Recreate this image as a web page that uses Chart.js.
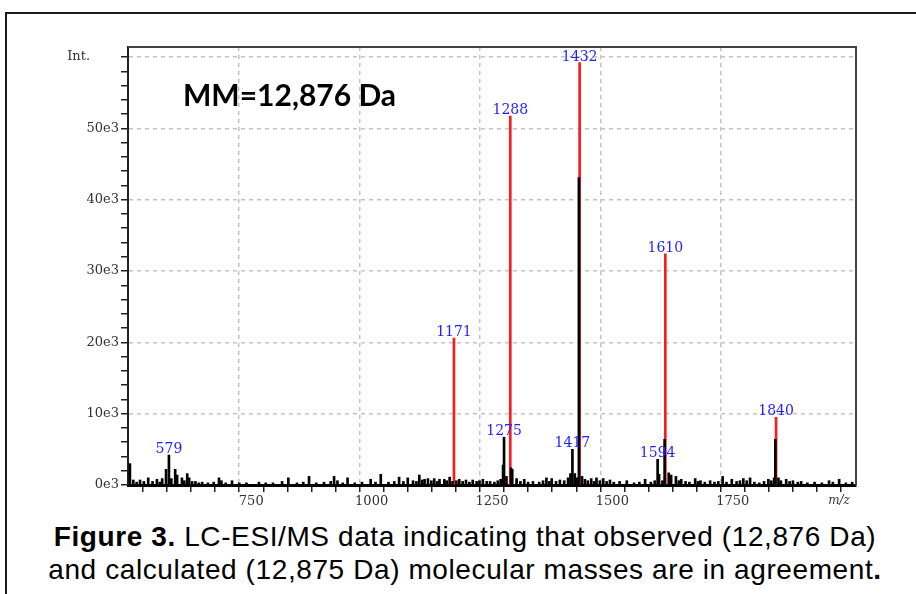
<!DOCTYPE html>
<html>
<head>
<meta charset="utf-8">
<script src="https://cdn.jsdelivr.net/npm/chart.js@4.4.1/dist/chart.umd.min.js"></script>
<style>
  body { margin: 0; background: #fff; width: 916px; height: 594px; overflow: hidden; position: relative; }
  #frame { position: absolute; left: 5px; top: 12px; width: 1000px; height: 700px; border: 2px solid #1a1a1a; }
  #wrap { position: absolute; left: 0; top: 0; width: 916px; height: 512px; }
  #caption { position: absolute; left: 0; top: 520px; width: 930px; text-align: center; letter-spacing: 0.6px;
             font-family: "Liberation Sans", Arial, sans-serif; font-size: 28px; line-height: 33px; color: #000; }
</style>
</head>
<body>
<div id="frame"></div>
<div id="wrap"><canvas id="myChart" width="916" height="512"></canvas></div>
<div id="caption"><b>Figure 3.</b> LC-ESI/MS data indicating that observed (12,876 Da)<br>and calculated (12,875 Da) molecular masses are in agreement<b>.</b></div>
<script>
// red sticks: calculated charge states
const redMz = [1171, 1288, 1432, 1610, 1840];
const redInt = [20600, 51700, 59200, 32400, 9500];

// black sticks: measured spectrum (peaks + noise)
const blackMz = [498, 505, 512, 519, 527, 536, 545, 554, 560, 565, 573, 579, 584, 592, 596, 606, 611, 617, 621, 627,
  634, 641, 648, 660, 672, 683, 688, 697, 710, 725, 740, 766, 780, 795, 814, 827, 845, 858, 870, 885,
  901, 915, 922, 929, 940, 950, 965, 980, 998, 1008, 1019, 1035, 1047, 1057, 1066, 1075, 1086, 1093, 1099, 1105,
  1110, 1117, 1124, 1130, 1136, 1141, 1151, 1156, 1162, 1168, 1176, 1182, 1189, 1196, 1203, 1210, 1218, 1224, 1231, 1239,
  1246, 1255, 1262, 1268, 1273, 1275, 1280, 1289.5, 1292, 1301, 1309, 1317, 1325, 1335, 1348, 1356, 1363, 1369, 1374, 1383,
  1391, 1400, 1408, 1413, 1417, 1422, 1427, 1430.5, 1437, 1443, 1449, 1456, 1462, 1467, 1474, 1481, 1488, 1495, 1503, 1515,
  1530, 1545, 1556, 1568, 1580, 1588, 1594, 1597, 1604, 1608.5, 1617, 1622, 1632, 1638, 1643, 1652, 1660, 1672, 1678, 1683,
  1692, 1703, 1712, 1720, 1729, 1737, 1748, 1758, 1765, 1772, 1779, 1786, 1795, 1805, 1815, 1824, 1830, 1836, 1838.5, 1845,
  1850, 1861, 1868, 1875, 1885, 1892, 1905, 1920, 1935, 1950, 1958, 1971, 1985, 1998];
const blackInt = [3000, 700, 400, 700, 500, 1000, 500, 800, 400, 900, 2200, 4200, 900, 2200, 1400, 1000, 600, 1600, 1000, 500,
  500, 300, 400, 300, 400, 1000, 600, 300, 600, 300, 300, 400, 300, 300, 500, 1000, 300, 400, 1200, 300,
  400, 500, 1200, 600, 300, 1000, 300, 400, 800, 400, 1500, 400, 500, 1100, 500, 1000, 600, 500, 1400, 700,
  800, 900, 600, 900, 500, 800, 800, 600, 1100, 500, 600, 800, 500, 700, 400, 700, 500, 600, 800, 500,
  500, 400, 600, 800, 2800, 6700, 1200, 2400, 2200, 900, 500, 800, 400, 500, 400, 600, 1000, 500, 900, 500,
  700, 600, 1000, 1600, 5000, 1600, 1000, 43100, 1200, 800, 600, 900, 500, 1000, 600, 900, 500, 700, 400, 500,
  600, 300, 400, 800, 400, 600, 3600, 1500, 600, 6400, 1700, 1400, 1200, 600, 800, 500, 400, 900, 500, 600,
  400, 600, 400, 500, 1200, 400, 800, 500, 600, 900, 600, 1000, 400, 300, 500, 800, 600, 1000, 6400, 1000,
  600, 800, 500, 600, 400, 500, 300, 400, 300, 600, 400, 800, 300, 400];

const labelMz = [579, 1171, 1275, 1288, 1417, 1432, 1594, 1610, 1840];

const xTickLabels = [750, 1000, 1250, 1500, 1750];
const yTickValues = [0, 10000, 20000, 30000, 40000, 50000, 60000];
const yTickText = ['0e3', '10e3', '20e3', '30e3', '40e3', '50e3', 'Int.       '];

const toPoints = (xs, ys) => xs.map((m, i) => ({x: m, y: ys[i]}));

// minor tick marks every 50 m/z and every 2e3 counts
const stepTicks = (from, to, step) => {
    const t = [];
    for (let v = from; v <= to; v += step) t.push({value: v});
    return t;
};

const extras = {
    id: 'extras',
    afterDraw(chart) {
        const {ctx, chartArea: a, scales: {x, y}} = chart;
        ctx.save();
        // plot frame
        ctx.strokeStyle = '#444';
        ctx.lineWidth = 2;
        ctx.beginPath();
        ctx.moveTo(a.left, a.top);
        ctx.lineTo(a.right, a.top);
        ctx.lineTo(a.right, a.bottom);
        ctx.stroke();

        // peak labels
        ctx.font = '14px "DejaVu Serif"';
        ctx.fillStyle = '#1f1fff';
        ctx.textAlign = 'center';
        ctx.textBaseline = 'alphabetic';
        labelMz.forEach(mz => {
            let h = 0;
            redMz.forEach((m, i) => { if (m === mz) h = Math.max(h, redInt[i]); });
            blackMz.forEach((m, i) => { if (Math.abs(m - mz) < 2) h = Math.max(h, blackInt[i]); });
            ctx.fillText(String(mz), x.getPixelForValue(mz), y.getPixelForValue(h) - 2);
        });

        // axis unit
        ctx.fillStyle = '#333';
        ctx.font = 'italic 12px "DejaVu Serif"';
        ctx.textBaseline = 'top';
        ctx.fillText('m/z', a.right - 17, a.bottom + 10);

        // annotation
        ctx.fillStyle = '#000';
        ctx.font = 'bold 30px Lato';
        ctx.textAlign = 'left';
        ctx.textBaseline = 'alphabetic';
        ctx.fillText('MM=12,876 Da', a.left + 55, a.top + 59);
        ctx.restore();
    }
};

const ctx = document.getElementById('myChart');

new Chart(ctx, {
    type: 'bar',
    data: {
        datasets: [{
            label: 'measured',
            data: toPoints(blackMz, blackInt),
            backgroundColor: '#000',
            barThickness: 2,
            grouped: false
        }, {
            label: 'calculated',
            data: toPoints(redMz, redInt),
            backgroundColor: '#ff1a1a',
            barThickness: 2,
            grouped: false
        }]
    },
    options: {
        responsive: false,
        animation: false,
        devicePixelRatio: 1,
        layout: {padding: {left: 0, top: 47, right: 60, bottom: 0}},
        plugins: {legend: {display: false}, tooltip: {enabled: false}},
        scales: {
            x: {
                type: 'linear',
                min: 494,
                max: 2006,
                offset: false,
                afterFit: s => { s.height = 27; },
                afterBuildTicks: s => { s.ticks = stepTicks(550, 2000, 50); },
                ticks: {
                    autoSkip: false,
                    maxRotation: 0,
                    padding: 2,
                    color: '#333',
                    font: {family: 'DejaVu Serif', size: 13},
                    callback: v => xTickLabels.includes(v) ? String(v) : ''
                },
                grid: {
                    color: c => (c.tick && xTickLabels.includes(c.tick.value)) ? '#c4c4c4' : 'rgba(0,0,0,0)',
                    tickColor: '#222',
                    tickLength: 7,
                    lineWidth: 1.5
                },
                border: {color: '#000', width: 3, dash: [4, 4]}
            },
            y: {
                min: 0,
                max: 61400,
                afterFit: s => { s.width = 128; },
                afterBuildTicks: s => { s.ticks = stepTicks(0, 60000, 2000); },
                ticks: {
                    autoSkip: false,
                    padding: 2,
                    color: '#333',
                    font: {family: 'DejaVu Serif', size: 13},
                    callback: v => {
                        const i = yTickValues.indexOf(v);
                        return i >= 0 ? yTickText[i] : '';
                    }
                },
                grid: {
                    color: c => (c.tick && c.tick.value > 0 && yTickValues.includes(c.tick.value)) ? '#c4c4c4' : 'rgba(0,0,0,0)',
                    tickColor: '#222',
                    tickLength: 7,
                    lineWidth: 1.5
                },
                border: {color: '#222', width: 2, dash: [4, 4]}
            }
        }
    },
    plugins: [extras]
});
</script>
</body>
</html>
